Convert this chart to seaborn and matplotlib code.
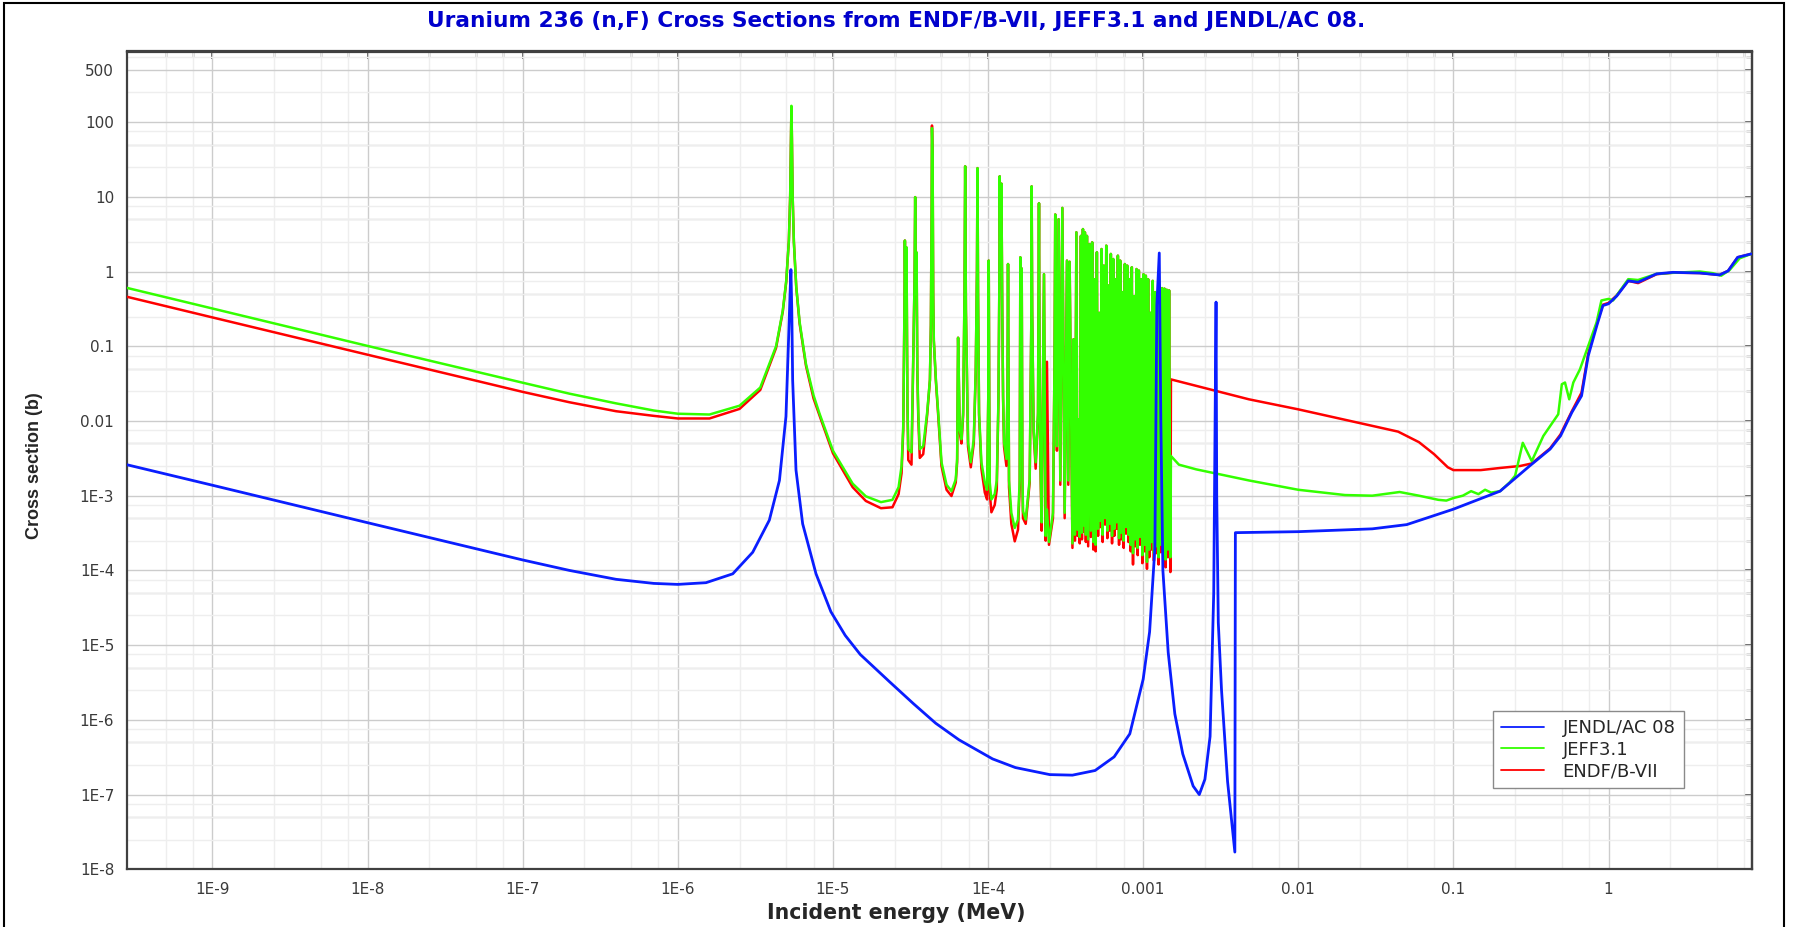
import numpy as np
import pandas as pd
import matplotlib
matplotlib.use("Agg")
import matplotlib.pyplot as plt
import matplotlib.ticker as mticker
from matplotlib.patches import Rectangle
from matplotlib.lines import Line2D
import seaborn as sns

# ------------------------------------------------------------------ data
TITLE = "Uranium 236 (n,F) Cross Sections from ENDF/B-VII, JEFF3.1 and JENDL/AC 08."
XLABEL = "Incident energy (MeV)"
YLABEL = "Cross section (b)"
LIBS = ["JENDL/AC 08", "JEFF3.1", "ENDF/B-VII"]

x_ticks = [1e-9, 1e-8, 1e-7, 1e-6, 1e-5, 1e-4, 1e-3, 1e-2, 1e-1, 1]
x_tick_labels = ["1E-9", "1E-8", "1E-7", "1E-6", "1E-5", "1E-4", "0.001", "0.01", "0.1", "1"]
y_ticks = [1e-8, 1e-7, 1e-6, 1e-5, 1e-4, 1e-3, 1e-2, 1e-1, 1, 10, 100, 500]
y_tick_labels = ["1E-8", "1E-7", "1E-6", "1E-5", "1E-4", "1E-3", "0.01", "0.1", "1", "10", "100", "500"]

# thermal / first resonance region, shared energy grid (MeV) for JEFF3.1 and ENDF/B-VII
e_low = [2.8e-10, 1e-9, 1e-8, 1e-7, 2e-7, 4e-7, 7e-7, 1e-6, 1.6e-6, 2.5e-6, 3.4e-6, 4.3e-6, 4.75e-6,
         5.0e-6, 5.2e-6, 5.3e-6, 5.36e-6, 5.4e-6, 5.44e-6, 5.5e-6, 5.6e-6, 5.8e-6, 6.1e-6,
         6.7e-6, 7.5e-6, 8.2e-6, 1e-5, 1.34e-5, 1.63e-5, 2.04e-5, 2.42e-5, 2.65e-5]
jeff_low = [0.605, 0.32, 0.101, 0.0325, 0.0232, 0.0172, 0.0138, 0.0125, 0.0122, 0.016, 0.028, 0.10, 0.30,
            0.75, 2.6, 10, 60, 165, 60, 10, 2.5, 0.63, 0.21,
            0.058, 0.022, 0.0125, 4.0e-3, 1.45e-3, 9.8e-4, 8.2e-4, 8.8e-4, 1.3e-3]
endf_low = [0.46, 0.243, 0.077, 0.0245, 0.0178, 0.0135, 0.0117, 0.0108, 0.0108, 0.0145, 0.026, 0.095, 0.29,
            0.73, 2.6, 10, 60, 158, 60, 10, 2.5, 0.62, 0.20,
            0.055, 0.020, 0.0118, 3.7e-3, 1.3e-3, 8.5e-4, 6.8e-4, 7.0e-4, 1.05e-3]

# resolved resonances 28 eV - 340 eV
e_res = [2.77e-5, 2.84e-5, 2.89e-5, 2.91e-5, 2.94e-5, 2.98e-5, 3.02e-5, 3.06e-5, 3.21e-5, 3.29e-5,
         3.36e-5, 3.39e-5, 3.42e-5, 3.46e-5, 3.50e-5, 3.55e-5, 3.63e-5, 3.82e-5, 4.05e-5, 4.22e-5,
         4.28e-5, 4.33e-5, 4.35e-5, 4.39e-5, 4.43e-5, 4.47e-5, 4.61e-5, 4.77e-5, 5.01e-5, 5.40e-5,
         5.81e-5, 6.19e-5, 6.32e-5, 6.41e-5, 6.57e-5, 6.74e-5, 6.91e-5, 7.05e-5, 7.12e-5, 7.20e-5,
         7.26e-5, 7.43e-5, 7.74e-5, 8.09e-5, 8.33e-5, 8.48e-5, 8.55e-5, 8.62e-5, 8.75e-5, 9.06e-5,
         9.53e-5, 9.86e-5, 1.003e-4, 1.010e-4, 1.018e-4, 1.026e-4, 1.051e-4, 1.104e-4, 1.138e-4, 1.167e-4,
         1.182e-4, 1.189e-4, 1.200e-4, 1.219e-4, 1.235e-4, 1.250e-4, 1.268e-4, 1.313e-4, 1.335e-4, 1.345e-4,
         1.355e-4, 1.365e-4, 1.413e-4, 1.486e-4, 1.560e-4, 1.600e-4, 1.615e-4, 1.632e-4, 1.648e-4, 1.665e-4,
         1.680e-4, 1.749e-4, 1.855e-4, 1.900e-4, 1.910e-4, 1.925e-4, 1.967e-4, 2.027e-4, 2.099e-4, 2.130e-4,
         2.150e-4, 2.173e-4, 2.216e-4, 2.294e-4, 2.352e-4, 2.398e-4, 2.470e-4, 2.621e-4, 2.680e-4, 2.711e-4,
         2.740e-4, 2.780e-4, 2.851e-4, 2.923e-4, 3.012e-4, 3.118e-4, 3.227e-4, 3.290e-4, 3.356e-4]
jeff_res = [2.5e-3, 8.6e-3, 0.3, 2.6, 0.3, 2.1, 0.02, 4.2e-3, 3.8e-3, 0.06,
            0.8, 9.9, 0.8, 1.8, 0.05, 0.013, 4.2e-3, 4.6e-3, 0.013, 0.036,
            0.19, 8.0, 83, 35, 0.5, 0.12, 0.036, 0.013, 2.8e-3, 1.4e-3,
            1.15e-3, 1.65e-3, 3.1e-3, 0.13, 7.7e-3, 5.7e-3, 0.013, 0.5, 25.6, 0.3,
            0.11, 5.2e-3, 2.8e-3, 5.7e-3, 0.049, 1.0, 24.2, 0.5, 0.013, 2.8e-3,
            1.5e-3, 1.2e-3, 0.02, 1.4, 0.02, 1.5e-3, 8.9e-4, 1.05e-3, 1.6e-3, 0.02,
            0.6, 18.8, 2.0, 15.0, 0.3, 0.022, 5.2e-3, 3.1e-3, 0.03, 1.26,
            0.03, 1.6e-3, 5.9e-4, 3.7e-4, 4.8e-4, 1.6e-3, 1.55, 0.1, 1.1, 2.0e-3,
            6.2e-4, 4.8e-4, 1.65e-3, 0.2, 13.8, 0.3, 7.7e-3, 2.8e-3, 0.013, 8.2,
            0.05, 3.3e-3, 4.4e-4, 0.92, 2.9e-4, 6.5e-4, 2.4e-4, 5.9e-4, 0.05, 5.8,
            0.05, 4.6e-3, 5.0, 1.6e-3, 7.1, 5.9e-4, 1.4, 1.6e-3, 1.35]
endf_res = [2.0e-3, 7.5e-3, 0.3, 2.6, 0.3, 2.1, 0.018, 3.0e-3, 2.6e-3, 0.055,
            0.8, 9.9, 0.8, 1.8, 0.045, 0.011, 3.2e-3, 3.6e-3, 0.012, 0.035,
            0.19, 8.0, 90, 38, 0.5, 0.12, 0.034, 0.012, 2.5e-3, 1.2e-3,
            9.9e-4, 1.5e-3, 2.8e-3, 0.13, 7.0e-3, 5.0e-3, 0.012, 0.5, 25.6, 0.3,
            0.10, 4.5e-3, 2.4e-3, 5.0e-3, 0.045, 1.0, 24.2, 0.5, 0.012, 2.3e-3,
            1.1e-3, 8.9e-4, 0.02, 1.4, 0.02, 1.1e-3, 6.0e-4, 7.5e-4, 1.2e-3, 0.018,
            0.6, 18.8, 2.0, 15.0, 0.3, 0.02, 4.5e-3, 2.5e-3, 0.03, 1.26,
            0.03, 1.3e-3, 4.2e-4, 2.45e-4, 3.5e-4, 1.3e-3, 1.55, 0.1, 1.1, 1.8e-3,
            5.0e-4, 4.2e-4, 1.5e-3, 0.2, 13.8, 0.3, 7.0e-3, 2.3e-3, 0.012, 8.2,
            0.05, 2.8e-3, 3.4e-4, 0.92, 2.5e-4, 0.062, 2.2e-4, 5.0e-4, 0.05, 5.8,
            0.05, 4.0e-3, 5.0, 1.4e-3, 7.1, 5.0e-4, 1.4, 1.4e-3, 1.35]

# dense resonance band 350 eV - 1.5 keV : valley energies / peak energies (MeV)
e_dense_valley = [3.50e-4, 3.63e-4, 3.77e-4, 3.90e-4, 4.03e-4, 4.15e-4, 4.27e-4, 4.42e-4, 4.60e-4, 4.77e-4,
                  4.94e-4, 5.12e-4, 5.30e-4, 5.48e-4, 5.68e-4, 5.88e-4, 6.08e-4, 6.30e-4, 6.52e-4, 6.75e-4,
                  6.99e-4, 7.23e-4, 7.49e-4, 7.75e-4, 8.03e-4, 8.31e-4, 8.60e-4, 8.90e-4, 9.22e-4, 9.54e-4,
                  9.88e-4, 1.022e-3, 1.058e-3, 1.095e-3, 1.133e-3, 1.173e-3, 1.215e-3, 1.257e-3, 1.301e-3, 1.347e-3,
                  1.395e-3, 1.444e-3, 1.498e-3]
e_dense_peak = [3.556e-4, 3.71e-4, 3.84e-4, 3.97e-4, 4.09e-4, 4.21e-4, 4.34e-4, 4.51e-4, 4.69e-4, 4.86e-4,
                5.03e-4, 5.21e-4, 5.39e-4, 5.58e-4, 5.78e-4, 5.98e-4, 6.19e-4, 6.41e-4, 6.64e-4, 6.87e-4,
                7.11e-4, 7.36e-4, 7.62e-4, 7.89e-4, 8.17e-4, 8.45e-4, 8.75e-4, 9.06e-4, 9.38e-4, 9.71e-4,
                1.005e-3, 1.040e-3, 1.076e-3, 1.114e-3, 1.153e-3, 1.194e-3, 1.236e-3, 1.279e-3, 1.324e-3, 1.371e-3,
                1.419e-3, 1.469e-3]
dense_peak = [0.124, 3.35, 0.0105, 3.0, 3.7, 3.35, 3.0, 2.33, 2.46, 0.79,
              1.81, 0.28, 2.0, 1.2, 2.22, 0.65, 1.72, 1.47, 0.79, 1.63,
              1.40, 0.53, 1.26, 1.2, 0.79, 1.14, 0.47, 1.08, 1.03, 0.79,
              0.92, 0.88, 0.79, 0.28, 0.75, 0.53, 0.28, 0.61, 0.60, 0.59,
              0.57, 0.56]
jeff_dense_valley = [2.3e-4, 3.0e-4, 3.5e-4, 2.8e-4, 3.2e-4, 4.0e-4, 3.0e-4, 2.6e-4, 3.4e-4, 2.4e-4,
                     2.2e-4, 3.6e-4, 4.6e-4, 3.0e-4, 5.0e-4, 3.4e-4, 4.2e-4, 2.9e-4, 3.6e-4, 4.4e-4,
                     2.7e-4, 3.2e-4, 2.5e-4, 3.8e-4, 3.0e-4, 2.2e-4, 1.7e-4, 2.6e-4, 2.0e-4, 2.8e-4,
                     1.6e-4, 2.2e-4, 1.3e-4, 1.9e-4, 2.4e-4, 1.7e-4, 2.1e-4, 1.5e-4, 2.2e-4, 1.8e-4,
                     1.4e-4, 1.9e-4, 1.5e-4]
endf_dense_valley = [2.0e-4, 2.5e-4, 2.9e-4, 2.3e-4, 2.6e-4, 3.3e-4, 2.4e-4, 2.1e-4, 2.8e-4, 1.9e-4,
                     1.8e-4, 2.9e-4, 3.8e-4, 2.4e-4, 4.1e-4, 2.7e-4, 3.4e-4, 2.3e-4, 2.9e-4, 3.6e-4,
                     2.2e-4, 2.6e-4, 2.0e-4, 3.1e-4, 2.4e-4, 1.8e-4, 1.2e-4, 2.1e-4, 1.6e-4, 2.2e-4,
                     1.25e-4, 1.8e-4, 1.05e-4, 1.5e-4, 1.9e-4, 1.35e-4, 1.7e-4, 1.2e-4, 1.75e-4, 1.4e-4,
                     1.1e-4, 1.5e-4, 9.5e-5]

# unresolved / fast region
e_jeff_fast = [1.51e-3, 1.7e-3, 2.2e-3, 4.8e-3, 0.01, 0.02, 0.03, 0.045, 0.06, 0.08,
               0.09, 0.1, 0.115, 0.13, 0.145, 0.16, 0.175, 0.2, 0.23, 0.25,
               0.28, 0.32, 0.38, 0.474, 0.5, 0.524, 0.558, 0.593, 0.654, 0.74,
               0.837, 0.9, 1.0, 1.07, 1.34, 1.55, 2.04, 2.6, 3.87, 4.7,
               5.33, 6.04, 7.0, 8.3, 8.45]
jeff_fast = [3.4e-3, 2.6e-3, 2.25e-3, 1.6e-3, 1.2e-3, 1.02e-3, 1.0e-3, 1.12e-3, 1.0e-3, 8.8e-4,
             8.6e-4, 9.3e-4, 1.0e-3, 1.15e-3, 1.05e-3, 1.2e-3, 1.1e-3, 1.15e-3, 1.5e-3, 1.85e-3,
             5.1e-3, 2.9e-3, 6.3e-3, 0.0123, 0.031, 0.0327, 0.0195, 0.0327, 0.049, 0.101,
             0.208, 0.41, 0.43, 0.41, 0.79, 0.77, 0.93, 0.96, 1.0, 0.95,
             0.88, 1.05, 1.5, 1.72, 1.72]
e_endf_fast = [1.51e-3, 4.8e-3, 0.01, 0.044, 0.06, 0.075, 0.092, 0.1, 0.15, 0.2,
               0.27, 0.32, 0.42, 0.49, 0.58, 0.67, 0.74, 0.84, 0.92, 1.0,
               1.13, 1.34, 1.55, 2.04, 2.6, 3.87, 5.2, 5.9, 6.8, 8.3, 8.45]
endf_fast = [0.036, 0.0195, 0.0143, 7.2e-3, 5.2e-3, 3.6e-3, 2.4e-3, 2.2e-3, 2.2e-3, 2.35e-3,
             2.5e-3, 2.7e-3, 4.3e-3, 6.6e-3, 0.0135, 0.024, 0.08, 0.2, 0.36, 0.38,
             0.48, 0.75, 0.70, 0.92, 0.965, 0.955, 0.9, 1.02, 1.55, 1.72, 1.72]

# JENDL/AC 08 over the whole range
e_jendl = [2.8e-10, 1e-9, 1e-8, 1e-7, 2e-7, 4e-7, 7e-7, 1e-6, 1.52e-6, 2.26e-6, 3.04e-6, 3.89e-6,
           4.52e-6, 4.98e-6, 5.19e-6, 5.29e-6, 5.36e-6, 5.43e-6, 5.5e-6, 5.78e-6, 6.38e-6, 7.78e-6,
           9.7e-6, 1.2e-5, 1.5e-5, 2.33e-5, 3.3e-5, 4.6e-5, 6.5e-5, 1.07e-4, 1.5e-4, 2.5e-4, 3.5e-4,
           4.9e-4, 6.5e-4, 8.2e-4, 1.0e-3, 1.1e-3,
           1.19e-3, 1.225e-3, 1.27e-3, 1.3e-3, 1.34e-3, 1.45e-3, 1.6e-3, 1.8e-3, 2.1e-3, 2.3e-3,
           2.5e-3, 2.7e-3, 2.85e-3, 2.9e-3, 2.95e-3, 2.98e-3, 3.05e-3, 3.2e-3, 3.5e-3, 3.9e-3,
           3.93e-3, 0.01, 0.03, 0.05, 0.1, 0.2, 0.31, 0.42, 0.49, 0.58,
           0.67, 0.74, 0.84, 0.92, 1.0, 1.13, 1.34, 1.55, 2.04, 2.6,
           3.87, 5.2, 5.9, 6.8, 8.3, 8.45]
jendl = [2.6e-3, 1.38e-3, 4.35e-4, 1.38e-4, 1.0e-4, 7.6e-5, 6.7e-5, 6.5e-5, 6.85e-5, 9.0e-5, 1.75e-4, 4.7e-4,
         1.6e-3, 0.0115, 0.146, 0.5, 1.06, 0.3, 0.035, 2.2e-3, 4.2e-4, 9.0e-5,
         2.8e-5, 1.35e-5, 7.5e-6, 3.2e-6, 1.65e-6, 9e-7, 5.4e-7, 3e-7, 2.3e-7, 1.85e-7, 1.82e-7,
         2.1e-7, 3.2e-7, 6.5e-7, 3.5e-6, 1.5e-5,
         2e-4, 0.35, 1.77, 9.6e-3, 1e-4, 8e-6, 1.2e-6, 3.5e-7, 1.3e-7, 1.0e-7,
         1.6e-7, 6e-7, 5e-5, 4.6e-3, 0.39, 1e-3, 2e-5, 2.5e-6, 1.5e-7, 1.7e-8,
         3.2e-4, 3.3e-4, 3.6e-4, 4.1e-4, 6.6e-4, 1.15e-3, 2.5e-3, 4.2e-3, 6.3e-3, 0.013,
         0.0217, 0.0745, 0.188, 0.35, 0.37, 0.47, 0.75, 0.72, 0.93, 0.975,
         0.955, 0.9, 1.02, 1.55, 1.72, 1.72]

COLORS = {"JENDL/AC 08": "#0a1eff", "JEFF3.1": "#33ff00", "ENDF/B-VII": "#ff0000"}

# ------------------------------------------------------------------ assemble series
def dense_band(valleys):
    e, s = [], []
    for i in range(len(e_dense_peak)):
        e += [e_dense_valley[i], e_dense_peak[i]]
        s += [valleys[i], dense_peak[i]]
    e.append(e_dense_valley[-1])
    s.append(valleys[-1])
    return e, s

e_jd, s_jd = dense_band(jeff_dense_valley)
e_ed, s_ed = dense_band(endf_dense_valley)

frames = [
    pd.DataFrame({"E": e_low + e_res + e_ed + e_endf_fast,
                  "sigma": endf_low + endf_res + s_ed + endf_fast, "lib": "ENDF/B-VII"}),
    pd.DataFrame({"E": e_low + e_res + e_jd + e_jeff_fast,
                  "sigma": jeff_low + jeff_res + s_jd + jeff_fast, "lib": "JEFF3.1"}),
    pd.DataFrame({"E": e_jendl, "sigma": jendl, "lib": "JENDL/AC 08"}),
]

# ------------------------------------------------------------------ figure
sns.set_style("white")
plt.rcParams["font.family"] = ["DejaVu Sans"]

W, H = 1793, 927
fig = plt.figure(figsize=(W / 100, H / 100), dpi=100)
ax = fig.add_axes([126.7 / W, 1 - 869.3 / H, (1752.3 - 126.7) / W, (869.3 - 51.5) / H])
ax.set_xscale("log")
ax.set_yscale("log")

widths = {"ENDF/B-VII": 1.8, "JEFF3.1": 1.8, "JENDL/AC 08": 2.0}
for df in frames:
    lib = df["lib"].iloc[0]
    sns.lineplot(data=df, x="E", y="sigma", ax=ax, estimator=None, sort=False,
                 color=COLORS[lib], lw=widths[lib], legend=False, zorder=3)

ax.set_xlim(2.8e-10, 8.45)
ax.set_ylim(1e-8, 880)

# ticks
x_minor = [m * 10.0 ** k for k in range(-10, 1) for m in (2.5, 5, 7.5)]
y_minor = [m * 10.0 ** k for k in range(-8, 3) for m in (2.5, 5, 7.5) if m * 10.0 ** k != 500]


def set_locators(axis_obj, major, minor, labels=None):
    axis_obj.set_major_locator(mticker.FixedLocator(major))
    axis_obj.set_minor_locator(mticker.FixedLocator(minor))
    axis_obj.set_minor_formatter(mticker.NullFormatter())
    if labels is None:
        axis_obj.set_major_formatter(mticker.NullFormatter())
    else:
        axis_obj.set_major_formatter(mticker.FixedFormatter(labels))


set_locators(ax.xaxis, x_ticks, x_minor, x_tick_labels)
set_locators(ax.yaxis, y_ticks, y_minor, y_tick_labels)

ax.tick_params(which="major", direction="inout", length=10, width=1.2, color="#404040",
               labelsize=11, labelcolor="#3a3a3a", pad=4)
ax.tick_params(which="minor", direction="in", length=5, width=1.0, color="#404040")

# inward ticks on the top and right edges
secx = ax.secondary_xaxis("top")
set_locators(secx.xaxis, x_ticks, x_minor)
secx.tick_params(which="major", direction="in", length=6, width=1.2, color="#404040")
secx.tick_params(which="minor", direction="in", length=4, width=1.0, color="#404040")
secy = ax.secondary_yaxis("right")
set_locators(secy.yaxis, y_ticks, y_minor)
secy.tick_params(which="major", direction="in", length=6, width=1.2, color="#404040")
secy.tick_params(which="minor", direction="in", length=4, width=1.0, color="#404040")
for sec in (secx, secy):
    for sp in sec.spines.values():
        sp.set_color("#404040")
        sp.set_linewidth(1.6)

# grid
ax.set_axisbelow(True)
ax.grid(which="major", color="#cccccc", lw=1.0)
ax.grid(which="minor", color="#eeeeee", lw=1.0)
for k in range(-8, 2):
    ax.axhline(5 * 10.0 ** k, color="#cccccc", lw=1.0, zorder=0.5)

for sp in ax.spines.values():
    sp.set_color("#404040")
    sp.set_linewidth(1.6)

# labels
ax.set_xlabel(XLABEL, fontsize=14.8, fontweight="bold", family="DejaVu Sans", va="center")
ax.xaxis.set_label_coords((896.5 - 126.7) / 1625.6, (869.3 - 913) / 817.8)
ax.set_ylabel(YLABEL, fontsize=13, fontweight="bold",
              family=["Liberation Sans Narrow", "Liberation Sans"], va="center")
ax.yaxis.set_label_coords((34 - 126.7) / 1625.6, (869.3 - 466) / 817.8)
fig.text(0.5, 1 - 21 / H, TITLE, ha="center", va="center", color="#0000cc",
         fontsize=15.6, fontweight="bold", family="DejaVu Sans")

# legend
handles = [Line2D([0], [0], color=COLORS[l], lw=1.3) for l in LIBS]
leg = ax.legend(handles, LIBS, loc="upper left", bbox_to_anchor=(1493 / W, 1 - 711 / H),
                bbox_transform=fig.transFigure, frameon=True, fancybox=False,
                edgecolor="#8a8a8a", framealpha=1, prop={"family": "DejaVu Sans", "size": 13},
                handlelength=2.4, handletextpad=1.0, borderpad=0.45, labelspacing=0.2,
                borderaxespad=0)
leg.get_frame().set_linewidth(1.0)
leg.set_zorder(10)

# outer figure frame
fig.add_artist(Rectangle((4 / W, -0.05), (1784 - 4) / W, (H - 3) / H + 0.05,
                         transform=fig.transFigure, fill=False, edgecolor="black", lw=1.5))

fig.savefig("out.png", dpi=100, facecolor="white")
